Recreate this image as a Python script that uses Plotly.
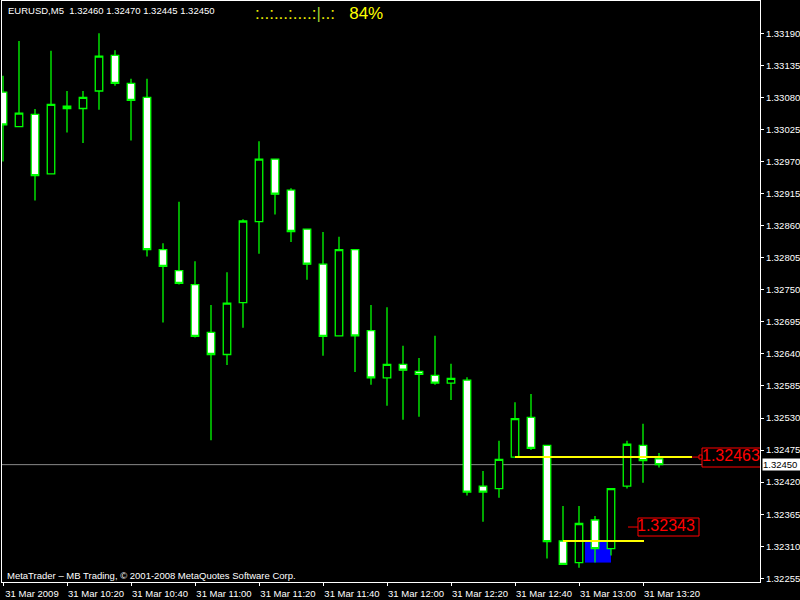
import plotly.graph_objects as go
import pandas as pd

# ---------------- data ----------------
times = pd.date_range("2009-03-31 10:00", periods=42, freq="5min")
opens = [1.33089, 1.33030, 1.33051, 1.32949, 1.33065, 1.33061, 1.33091, 1.33152, 1.33104, 1.33080,
         1.32819, 1.32783, 1.32759, 1.32677, 1.32639, 1.32728, 1.32867, 1.32974, 1.32921, 1.32854,
         1.32794, 1.32671, 1.32819, 1.32680, 1.32599, 1.32622, 1.32610, 1.32603, 1.32590, 1.32595,
         1.32413, 1.32409, 1.32463, 1.32531, 1.32483, 1.32319, 1.32282, 1.32355, 1.32306, 1.32413,
         1.32483, 1.32460]
highs = [1.33117, 1.33177, 1.33060, 1.33160, 1.33091, 1.33091, 1.33190, 1.33161, 1.33112, 1.33112,
         1.32830, 1.32901, 1.32799, 1.32724, 1.32780, 1.32871, 1.33005, 1.32974, 1.32924, 1.32854,
         1.32849, 1.32841, 1.32819, 1.32724, 1.32720, 1.32654, 1.32633, 1.32671, 1.32623, 1.32600,
         1.32439, 1.32491, 1.32557, 1.32571, 1.32483, 1.32379, 1.32379, 1.32362, 1.32409, 1.32491,
         1.32520, 1.32470]
lows = [1.32970, 1.33029, 1.32903, 1.32948, 1.33020, 1.33002, 1.33059, 1.33100, 1.33006, 1.32807,
        1.32694, 1.32759, 1.32668, 1.32492, 1.32621, 1.32685, 1.32812, 1.32879, 1.32832, 1.32767,
        1.32637, 1.32670, 1.32609, 1.32587, 1.32551, 1.32527, 1.32532, 1.32587, 1.32561, 1.32397,
        1.32352, 1.32393, 1.32462, 1.32475, 1.32289, 1.32278, 1.32273, 1.32282, 1.32294, 1.32409,
        1.32419, 1.32445]
closes = [1.33033, 1.33053, 1.32946, 1.33068, 1.33061, 1.33080, 1.33151, 1.33104, 1.33075, 1.32819,
          1.32790, 1.32761, 1.32670, 1.32639, 1.32727, 1.32868, 1.32974, 1.32914, 1.32850, 1.32794,
          1.32670, 1.32819, 1.32671, 1.32599, 1.32622, 1.32612, 1.32605, 1.32590, 1.32598, 1.32403,
          1.32403, 1.32459, 1.32529, 1.32478, 1.32318, 1.32279, 1.32349, 1.32306, 1.32409, 1.32485,
          1.32457, 1.32450]

price_ticks = [1.32255, 1.32310, 1.32365, 1.32420, 1.32475, 1.32530, 1.32585, 1.32640, 1.32695,
               1.32750, 1.32805, 1.32860, 1.32915, 1.32970, 1.33025, 1.33080, 1.33135, 1.33190]
time_ticks = ["2009-03-31 10:00", "2009-03-31 10:20", "2009-03-31 10:40", "2009-03-31 11:00",
              "2009-03-31 11:20", "2009-03-31 11:40", "2009-03-31 12:00", "2009-03-31 12:20",
              "2009-03-31 12:40", "2009-03-31 13:00", "2009-03-31 13:20"]
time_labels = ["31 Mar 2009", "31 Mar 10:20", "31 Mar 10:40", "31 Mar 11:00", "31 Mar 11:20",
               "31 Mar 11:40", "31 Mar 12:00", "31 Mar 12:20", "31 Mar 12:40", "31 Mar 13:00",
               "31 Mar 13:20"]

symbol = "EURUSD,M5"
bid_price = 1.32450
level_hi = 1.32463
level_lo = 1.32319
label_lo = 1.32343
box_top, box_bottom = 1.32318, 1.32282

# ---------------- helpers (positions) ----------------
base = pd.Timestamp("2009-03-31 10:00")
def tx(px):
    return base + pd.Timedelta(minutes=5 * (px - 3) / 16.0)

def py2p(py):
    return 1.33190 - (py - 33.3) / 58290.0

def pxp(px):
    return (px - 2) / 758.0

def pyp(py):
    return (582 - py) / 581.0

FONT = "Liberation Sans, Arial, sans-serif"
GREEN = "#00FF00"

fig = go.Figure()
fig.add_trace(go.Candlestick(
    x=times, open=opens, high=highs, low=lows, close=closes,
    increasing=dict(line=dict(color=GREEN, width=1.3), fillcolor="#000000"),
    decreasing=dict(line=dict(color=GREEN, width=1.3), fillcolor="#FFFFFF"),
    whiskerwidth=0, showlegend=False, hoverinfo="skip"))

# red price label texts (clipped to plot area)
fig.add_trace(go.Scatter(
    x=[tx(702), tx(637)], y=[level_hi, label_lo], mode="text",
    text=[f"{level_hi:.5f}", f"{label_lo:.5f}"], textposition="middle right",
    textfont=dict(family=FONT, size=16, color="#FF0000"),
    cliponaxis=True, showlegend=False, hoverinfo="skip"))

shapes = [
    # bid line
    dict(type="line", xref="paper", x0=0, x1=1, y0=bid_price, y1=bid_price,
         line=dict(color="#8a8a8a", width=1), layer="below"),
    # blue rectangle
    dict(type="rect", x0=tx(585), x1=tx(611), y0=box_bottom, y1=box_top,
         fillcolor="#0000FF", line=dict(width=0), layer="below"),
    # red label boxes
    dict(type="rect", x0=tx(702), x1=tx(775), y0=py2p(467), y1=py2p(448),
         fillcolor="#000000", line=dict(color="#FF0000", width=1), layer="below"),
    dict(type="rect", x0=tx(638), x1=tx(699), y0=py2p(536), y1=py2p(518),
         fillcolor="#000000", line=dict(color="#FF0000", width=1), layer="below"),
    # red dashes
    dict(type="line", x0=tx(692), x1=tx(700), y0=level_hi, y1=level_hi,
         line=dict(color="#FF0000", width=1), layer="above"),
    dict(type="rect", x0=tx(699), x1=tx(702), y0=py2p(459), y1=py2p(455),
         fillcolor="#000000", line=dict(color="#FF0000", width=1), layer="above"),
    dict(type="line", x0=tx(628), x1=tx(638), y0=label_lo, y1=label_lo,
         line=dict(color="#FF0000", width=1), layer="above"),
    # yellow levels
    dict(type="line", x0=tx(515), x1=tx(692), y0=level_hi, y1=level_hi,
         line=dict(color="#FFFF00", width=2), layer="above"),
    dict(type="line", x0=tx(563), x1=tx(644), y0=level_lo, y1=level_lo,
         line=dict(color="#FFFF00", width=2), layer="above"),
]

annotations = [
    dict(xref="paper", yref="paper", x=pxp(6), y=pyp(11), xanchor="left", yanchor="middle",
         text=f"{symbol}\u00a0\u00a0{opens[-1]:.5f} {highs[-1]:.5f} {lows[-1]:.5f} {closes[-1]:.5f}",
         showarrow=False, font=dict(family=FONT, size=9.5, color="#FFFFFF")),
    dict(xref="paper", yref="paper", x=pxp(253), y=pyp(13), xanchor="left", yanchor="middle",
         text="<span style='color:#E8E800'>:..:...:....:</span><span style='color:#9ACD32'>|</span>"
              "<span style='color:#E8E800'>..:</span>\u00a0\u00a0 <span style='color:#FFFF00'>84%</span>",
         showarrow=False, font=dict(family=FONT, size=17, color="#FFFF00")),
    dict(xref="paper", yref="paper", x=pxp(5), y=pyp(575.5), xanchor="left", yanchor="middle",
         text="MetaTrader \u2013 MB Trading, \u00a9 2001-2008 MetaQuotes Software Corp.",
         showarrow=False, font=dict(family=FONT, size=9.5, color="#FFFFFF")),
    dict(xref="paper", yref="y", x=pxp(762), y=bid_price, xanchor="left", yanchor="middle",
         text=f"{bid_price:.5f}", showarrow=False, bgcolor="#FFFFFF", borderpad=0,
         width=38, height=11, align="left",
         font=dict(family=FONT, size=9.5, color="#000000")),
]

fig.update_layout(
    width=800, height=600, margin=dict(l=2, r=40, t=1, b=18),
    paper_bgcolor="#000000", plot_bgcolor="#000000", showlegend=False, boxgap=0.33,
    font=dict(family=FONT, size=9.5, color="#FFFFFF"),
    shapes=shapes, annotations=annotations, hovermode=False,
)
fig.update_xaxes(
    type="date", range=[tx(2), tx(760)], rangeslider_visible=False, showgrid=False, zeroline=False,
    showline=True, linecolor="#FFFFFF", linewidth=1, mirror=True,
    ticks="outside", ticklen=3, tickcolor="#FFFFFF",
    tickvals=time_ticks, ticktext=time_labels, ticklabelshift=29,
    tickfont=dict(family=FONT, size=9.5, color="#FFFFFF"))
fig.update_yaxes(
    side="right", range=[py2p(582), py2p(1)], showgrid=False, zeroline=False,
    showline=True, linecolor="#FFFFFF", linewidth=1, mirror=True,
    ticks="outside", ticklen=3, tickcolor="#FFFFFF",
    tickvals=price_ticks, ticktext=[f"{v:.5f}" for v in price_ticks],
    tickfont=dict(family=FONT, size=9.5, color="#FFFFFF"))

fig.write_html("out.html", config={"displayModeBar": False},
               post_script="document.body.style.margin='0';")
